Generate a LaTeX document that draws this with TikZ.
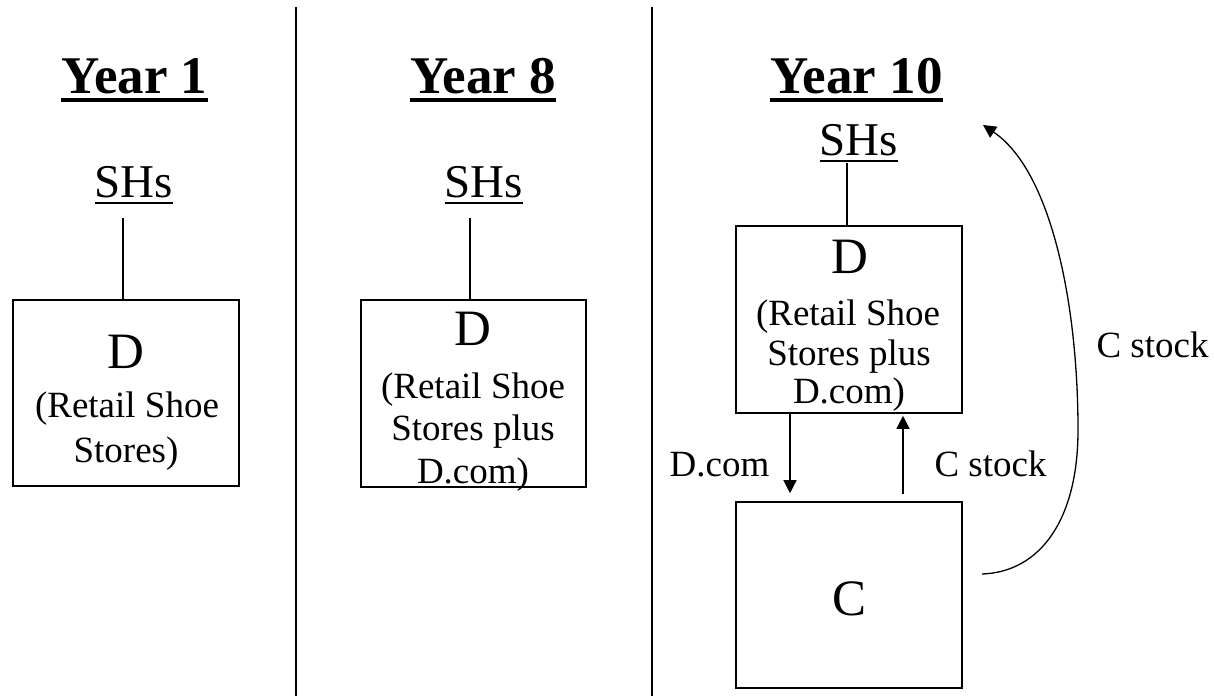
\documentclass[tikz,border=0pt]{standalone}
\usepackage{fontspec}
\setmainfont{Liberation Serif}
\usetikzlibrary{arrows.meta}
\begin{document}
\begin{tikzpicture}[x=1pt,y=-1pt,
  txt/.style={inner sep=0pt, anchor=base},
  yearfont/.style={txt, font=\fontsize{53}{60}\selectfont\bfseries},
  shfont/.style={txt, font=\fontsize{47}{54}\selectfont},
  bigfont/.style={txt, font=\fontsize{51}{58}\selectfont},
  bodyfont/.style={txt, font=\fontsize{37}{43}\selectfont},
  box/.style={draw, line width=1.6pt, inner sep=0pt},
  conn/.style={line width=1.3pt},
  arr/.style={conn, -{Triangle[length=13pt,width=13pt]}},
  divider/.style={line width=1.5pt},
  yul/.style={line width=4pt},
  sul/.style={line width=2.5pt}
]
\useasboundingbox (0,0) rectangle (1214,696);

% dividers
\coordinate (v1t) at (296,7);
\coordinate (v1b) at (296,696);
\coordinate (v2t) at (652,7);
\coordinate (v2b) at (652,696);
\draw[divider] (v1t) -- (v1b);
\draw[divider] (v2t) -- (v2b);

% headings
\node[yearfont] (y1) at (134.5,93) {Year 1};
\node[yearfont] (y8) at (483,93) {Year 8};
\node[yearfont] (y10) at (856.5,93) {Year 10};
\foreach \n in {y1,y8,y10}
  \draw[yul] ([yshift=-7pt]\n.base west) -- ([yshift=-7pt]\n.base east);

% SHs
\node[shfont] (s1) at (134,197) {SHs};
\node[shfont] (s8) at (484,197) {SHs};
\node[shfont] (s10) at (859,155) {SHs};
\foreach \n in {s1,s8,s10}
  \draw[sul] ([yshift=-6pt]\n.base west) -- ([yshift=-6pt]\n.base east);

% boxes
\node[box, minimum width=226pt, minimum height=186pt] (b1) at (126,393) {};
\node[box, minimum width=225pt, minimum height=187pt] (b8) at (473.5,393.5) {};
\node[box, minimum width=226pt, minimum height=187pt] (b10) at (849,319.5) {};
\node[box, minimum width=226pt, minimum height=186pt] (c) at (849,595) {};

% connectors SHs -> D
\coordinate (l1) at (123,218);
\coordinate (l8) at (470,218);
\coordinate (l10) at (847,163);
\draw[conn] (l1) -- (l1 |- b1.north);
\draw[conn] (l8) -- (l8 |- b8.north);
\draw[conn] (l10) -- (l10 |- b10.north);

% box texts Year 1
\node[bigfont] (d1) at (126,368) {D};
\node[bodyfont] (d1a) at (127,417) {(Retail Shoe};
\node[bodyfont] (d1b) at (126,462) {Stores)};
% Year 8
\node[bigfont] (d8) at (473,345) {D};
\node[bodyfont] (d8a) at (473,398) {(Retail Shoe};
\node[bodyfont] (d8b) at (473,440) {Stores plus};
\node[bodyfont] (d8c) at (473,483) {D.com)};
% Year 10
\node[bigfont] (d10) at (850,273) {D};
\node[bodyfont] (d10a) at (848,325) {(Retail Shoe};
\node[bodyfont] (d10b) at (849,365) {Stores plus};
\node[bodyfont] (d10c) at (849,403) {D.com)};
\node[bigfont] (cl) at (849,615) {C};

% arrows between D and C
\coordinate (a1) at (790,0);
\coordinate (a2) at (903,0);
\draw[arr] (a1 |- b10.south) -- ([yshift=8pt]a1 |- c.north);
\draw[arr] ([yshift=7pt]a2 |- c.north) -- ([yshift=-2pt]a2 |- b10.south);
\node[bodyfont] (lab1) at (719.5,476) {D.com};
\node[bodyfont] (lab2) at (990.5,476) {C stock};

% curved arrow
\coordinate (cs) at (982,574);
\coordinate (ct) at (983,125);
\draw[arr] (cs) .. controls (1040,572) and (1078,520) .. (1078,430)
  .. controls (1078,300) and (1050,170) .. (ct);
\node[bodyfont] (lab3) at (1152.5,357) {C stock};
\end{tikzpicture}
\end{document}
